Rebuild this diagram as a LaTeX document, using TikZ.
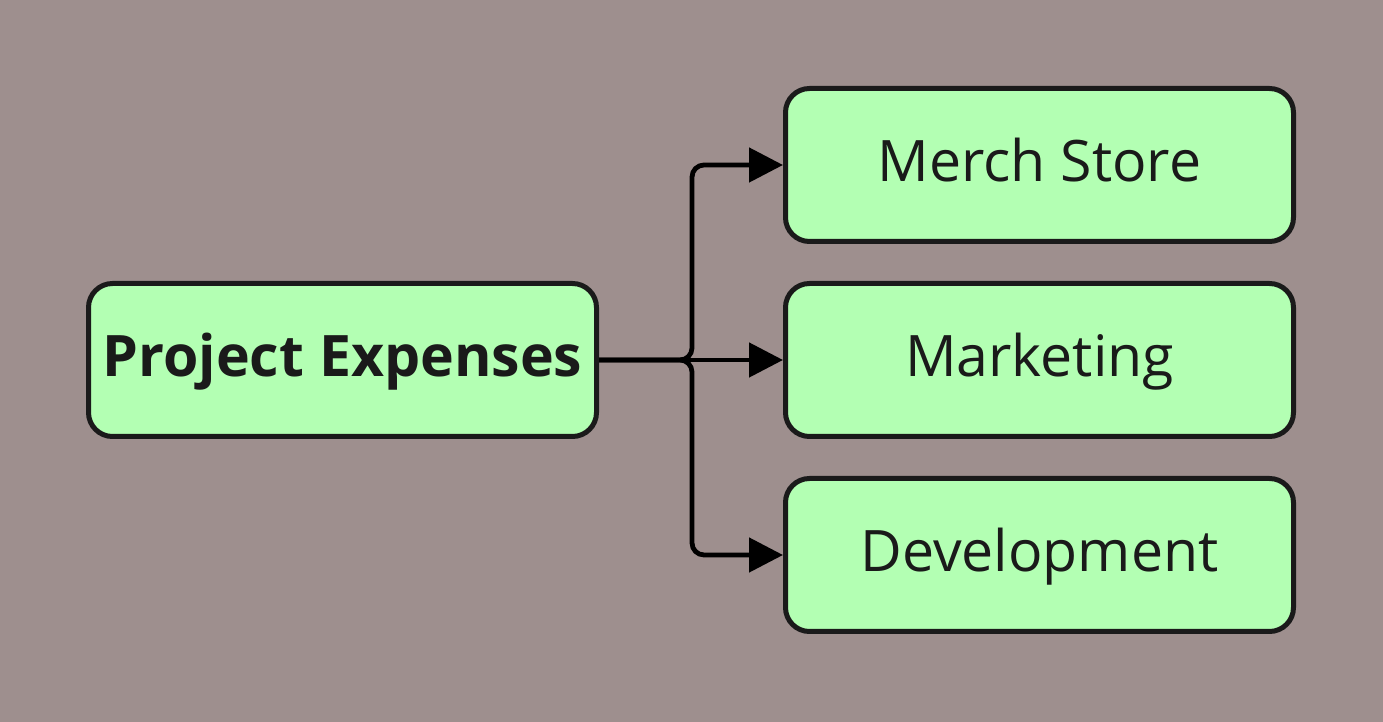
\documentclass[tikz,border=0pt]{standalone}
\usepackage{fontspec}
\setmainfont{Open Sans}
\usepackage{xcolor}
\usetikzlibrary{arrows.meta}

\definecolor{bgmauve}{HTML}{9E8F8E}
\definecolor{boxgreen}{HTML}{B3FFB3}
\definecolor{inkdark}{HTML}{1A1A1A}

\tikzset{
	item/.style = {draw=inkdark, fill=boxgreen, line width=2.5pt,
		rounded corners=12pt, minimum width=254pt, minimum height=76.5pt,
		text height=22pt, text depth=5pt,
		text=inkdark, font=\fontsize{28.6}{34}\selectfont, inner sep=0pt},
	branch/.style = {line width=2.4pt, rounded corners=6pt,
		-{Triangle[length=17pt,width=17pt]}}
}

\begin{document}
\begin{tikzpicture}[x=0.5pt,y=0.5pt]
	\fill[bgmauve] (0,0) rectangle (1383,722);
	\useasboundingbox (0,0) rectangle (1383,722);
	
	\node[item, font=\fontsize{28.6}{34}\selectfont\bfseries] (pe) at (342.5,362) {Project Expenses};
	
	\node[item] (ms) at (1039.5,557) {Merch Store};
	\node[item] (mk) at (1039.5,362) {Marketing};
	\node[item] (dv) at (1039.5,167) {Development};
	
	\draw[branch] (pe.east) -- ++(93,0) |- (ms.west);
	\draw[branch] (pe.east) -- (mk.west);
	\draw[branch] (pe.east) -- ++(93,0) |- (dv.west);
	
\end{tikzpicture}
\end{document}
